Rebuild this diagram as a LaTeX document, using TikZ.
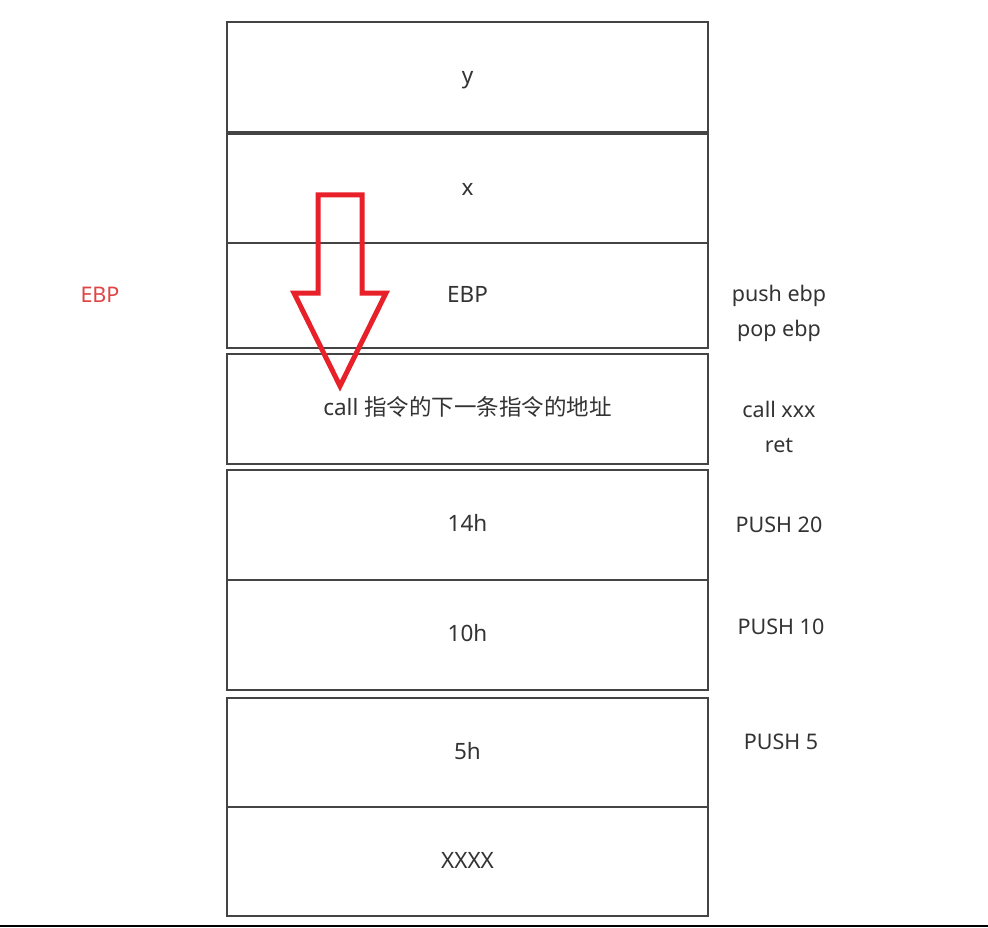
\documentclass[tikz,border=0pt]{standalone}
\usepackage{fontspec}
\setmainfont{Noto Sans}
\newfontfamily\cjk{Noto Sans CJK SC}
\definecolor{txt}{HTML}{333333}
\definecolor{boxline}{HTML}{444444}
\definecolor{arrowred}{HTML}{E8202A}
\definecolor{ebpred}{HTML}{E04545}
\begin{document}
\begin{tikzpicture}[x=1pt,y=-1pt,
  cell/.style={draw=boxline,line width=2pt,minimum width=481pt,inner sep=0pt,
    font=\fontsize{22.5}{26}\selectfont,text=txt,text height=1.34em,text depth=0pt},
  side/.style={font=\fontsize{21.5}{25}\selectfont,text=txt,inner sep=0pt,
    text height=1.52em,text depth=0pt},
  bigarrow/.style={draw=arrowred,line width=5pt,line join=miter}]
\useasboundingbox (0,0) rectangle (988,928);
\fill[white] (0,0) rectangle (988,928);
% stack cells
\node[cell,minimum height=110pt] (cy) at (467.5,77) {y};
\node[cell,minimum height=109pt] (cx) at (467.5,188.5) {x};
\node[cell,minimum height=105pt] (cebp) at (467.5,295.5) {EBP};
\node[cell,minimum height=110pt] (ccall) at (467.5,409) {call {\cjk 指令的下一条指令的地址}};
\node[cell,minimum height=110pt] (c14) at (467.5,525) {14h};
\node[cell,minimum height=110pt] (c10) at (467.5,635) {10h};
\node[cell,minimum height=109pt] (c5) at (467.5,752.5) {5h};
\node[cell,minimum height=109pt] (cxx) at (467.5,861.5) {XXXX};
% side labels
\node[side] (push) at (779,294) {push ebp};
\node[side] (pop) at (779,329) {pop ebp};
\node[side] (callx) at (779,410) {call xxx};
\node[side] (ret) at (779,445) {ret};
\node[side] (p20) at (779,525) {PUSH 20};
\node[side] (p10) at (781,627) {PUSH 10};
\node[side] (p5) at (781,742) {PUSH 5};
\node[side,text=ebpred] (ebpl) at (100,295) {EBP};
% red outline arrow
\draw[bigarrow] (318,195) -- (362,195) -- (362,293) -- (386,293) -- (340,386)
  -- (294,293) -- (318,293) -- cycle;
% bottom rule
\draw[black,line width=2pt] (0,926) -- (988,926);
\end{tikzpicture}
\end{document}
